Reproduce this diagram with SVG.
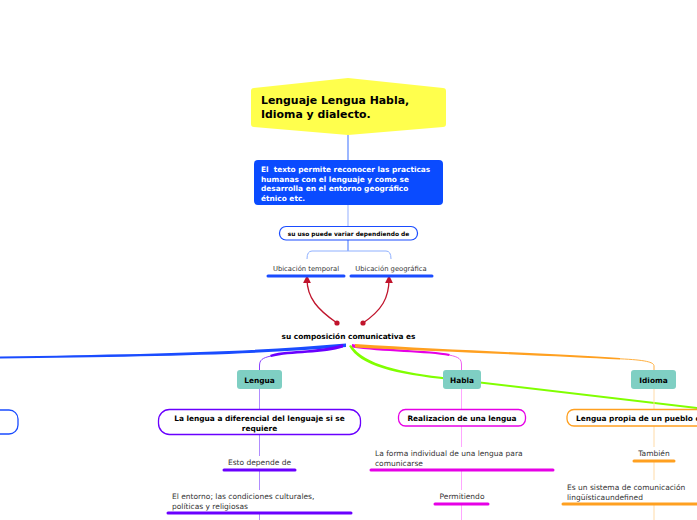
<svg xmlns="http://www.w3.org/2000/svg" width="697" height="520" viewBox="0 0 697 520">
<defs>
<style>
text{font-family:"DejaVu Sans","Liberation Sans",sans-serif;}
.b{font-weight:bold;}
.t{font-size:7.5px;fill:#333;}
.ts{font-size:6.8px;fill:#333;}
.tb{font-size:7.4px;fill:#000;font-weight:bold;}
.topic{fill:#7fcfc3;}
.ul{stroke-width:3;fill:none;stroke-linecap:round;}
.thin{fill:none;stroke-width:1;}
</style>
<marker id="ah" viewBox="0 0 10 10" refX="5" refY="5" markerWidth="6" markerHeight="6" orient="auto-start-reverse">
<path d="M0,0 L10,5 L0,10 Z" fill="#c0142c"/>
</marker>
</defs>
<rect width="697" height="520" fill="#fff"/>

<g id="connectors">
<line x1="348" y1="135" x2="348" y2="160" stroke="#5b87ff" stroke-width="1.2"/>
<line x1="348" y1="205" x2="348" y2="226" stroke="#a6bcff" stroke-width="1.2"/>
<line x1="348" y1="240" x2="348" y2="251" stroke="#5b87ff" stroke-width="1.2"/>
<path d="M312,251 L386,251 Q391,251 391,259 M312,251 Q307,251 307,259" class="thin" stroke="#8fb0ff"/>
<path d="M337,323 C318,310 307,298 307,279" fill="none" stroke="#c0142c" stroke-width="1.3" marker-end="url(#ah)"/>
<circle cx="337" cy="323" r="2.6" fill="#c0142c"/>
<path d="M363,323 C382,310 389,298 389,279" fill="none" stroke="#c0142c" stroke-width="1.3" marker-end="url(#ah)"/>
<circle cx="363" cy="323" r="2.6" fill="#c0142c"/>
<path d="M346,343.5 C250,352 150,354 0,356.5 L0,358.5 C150,356.5 250,355 346,347 Z" fill="#1a4cff"/>
<path d="M343,344 C320,352 280,350 270,355 L271,357 C290,352 325,354 343,347.5 Z" fill="#6a00ff"/>
<path d="M271,356 C262,358 259.5,360 259.5,366 L259.5,370" class="thin" stroke="#8a40ff"/>
<path d="M352,344 C380,350 430,350 450,354 L449,356 C430,352 380,352 352,347.5 Z" fill="#e600e6"/>
<path d="M449,355 C459,357 461.5,359 461.5,365 L461.5,370" class="thin" stroke="#f060f0"/>
<path d="M351,345 C365,365 400,372 450,378 L697,407 L697,409 L450,380 C395,374 360,366 349,346 Z" fill="#80ff00"/>
<path d="M355,344 C450,350 560,354 620,358 L620,359.5 C560,356 450,352 355,347.5 Z" fill="#ffa020"/>
<path d="M620,358.8 C645,360 654,362 654,366 L654,370" class="thin" stroke="#ffb040"/>
<line x1="259.5" y1="389" x2="259.5" y2="409" stroke="#b08cff" stroke-width="1"/>
<line x1="259.5" y1="434" x2="259.5" y2="456" stroke="#b08cff" stroke-width="1"/>
<line x1="259.5" y1="470" x2="259.5" y2="490" stroke="#b08cff" stroke-width="1"/>
<line x1="259.5" y1="513" x2="259.5" y2="520" stroke="#b08cff" stroke-width="1"/>
<line x1="461.5" y1="389" x2="461.5" y2="409" stroke="#ffa6ff" stroke-width="1"/>
<line x1="461.5" y1="426" x2="461.5" y2="447" stroke="#ffa6ff" stroke-width="1"/>
<line x1="461.5" y1="470" x2="461.5" y2="490" stroke="#ffa6ff" stroke-width="1"/>
<line x1="461.5" y1="504" x2="461.5" y2="520" stroke="#ffa6ff" stroke-width="1"/>
<line x1="654" y1="389" x2="654" y2="409" stroke="#ffdba8" stroke-width="1"/>
<line x1="654" y1="426" x2="654" y2="447" stroke="#ffdba8" stroke-width="1"/>
<line x1="654" y1="461" x2="654" y2="480" stroke="#ffdba8" stroke-width="1"/>
<line x1="654" y1="504" x2="654" y2="520" stroke="#ffdba8" stroke-width="1"/>
</g>

<g id="main">
<path d="M254,88 L348,78 L443,88 Q446,88 446,91 L446,124 Q446,127 443,127 L348,135 L254,127 Q251,127 251,124 L251,91 Q251,88 254,88 Z" fill="#ffff4d"/>
<text x="261" y="104" class="b" font-size="10.9" fill="#000">Lenguaje Lengua Habla,</text>
<text x="261" y="118" class="b" font-size="10.9" fill="#000">Idioma y dialecto.</text>
</g>

<g id="texto">
<rect x="254" y="160" width="189" height="45" rx="4" fill="#0a4bff"/>
<text class="b" font-size="7.4" fill="#fff" xml:space="preserve"><tspan x="261" y="172">El  texto permite reconocer las practicas</tspan><tspan x="261" y="181.5">humanas con el lenguaje y como se</tspan><tspan x="261" y="191">desarrolla en el entorno geográfico</tspan><tspan x="261" y="200.5">étnico etc.</tspan></text>
</g>

<g id="uso">
<rect x="279.5" y="226.5" width="138" height="13.5" rx="6.5" fill="#fff" stroke="#1a4cff" stroke-width="1.2"/>
<text x="348.5" y="236" text-anchor="middle" class="b" font-size="5.9" fill="#000">su uso puede variar dependiendo de</text>
</g>

<g id="temporal">
<text x="306" y="271" text-anchor="middle" class="ts">Ubicación temporal</text>
<line x1="268" y1="276" x2="344" y2="276" class="ul" stroke="#1a4cff"/>
</g>
<g id="geografica">
<text x="391" y="271" text-anchor="middle" class="ts">Ubicación geográfica</text>
<line x1="351" y1="276" x2="432" y2="276" class="ul" stroke="#1a4cff"/>
</g>

<g id="composicion">
<text x="348.5" y="339" text-anchor="middle" class="tb">su composición comunicativa es</text>
</g>

<g id="left-box">
<rect x="-30" y="410" width="48" height="24" rx="9" fill="#fff" stroke="#1a4cff" stroke-width="1.3"/>
</g>

<g id="lengua">
<rect x="237" y="370" width="45" height="19" rx="3" class="topic"/>
<text x="259.5" y="382.5" text-anchor="middle" class="tb">Lengua</text>
</g>
<g id="lengua-def">
<rect x="158.5" y="409.5" width="202" height="25" rx="11" fill="#fff" stroke="#6a00ff" stroke-width="1.3"/>
<text x="259.5" y="421" text-anchor="middle" class="tb">La lengua a diferencial del lenguaje si se</text>
<text x="259.5" y="430.5" text-anchor="middle" class="tb">requiere</text>
</g>
<g id="depende">
<text x="259.5" y="465" text-anchor="middle" class="t">Esto depende de</text>
<line x1="224" y1="470" x2="295" y2="470" class="ul" stroke="#6a00ff"/>
</g>
<g id="entorno">
<text x="172" y="499" class="t">El entorno; las condiciones culturales,</text>
<text x="172" y="508.5" class="t">políticas y religiosas</text>
<line x1="168" y1="513" x2="351" y2="513" class="ul" stroke="#6a00ff"/>
</g>

<g id="habla">
<rect x="443" y="370" width="38" height="19" rx="3" class="topic"/>
<text x="462" y="382.5" text-anchor="middle" class="tb">Habla</text>
</g>
<g id="habla-def">
<rect x="398.5" y="409.5" width="127" height="16.5" rx="7" fill="#fff" stroke="#e600e6" stroke-width="1.3"/>
<text x="462" y="420.5" text-anchor="middle" class="tb">Realizacion de una lengua</text>
</g>
<g id="forma">
<text x="375" y="456" class="t">La forma individual de una lengua para</text>
<text x="375" y="465.5" class="t">comunicarse</text>
<line x1="371" y1="470" x2="553" y2="470" class="ul" stroke="#e600e6"/>
</g>
<g id="permitiendo">
<text x="462" y="499" text-anchor="middle" class="t">Permitiendo</text>
<line x1="435" y1="504" x2="488" y2="504" class="ul" stroke="#e600e6"/>
</g>

<g id="idioma">
<rect x="631" y="370" width="45" height="19" rx="3" class="topic"/>
<text x="653.5" y="382.5" text-anchor="middle" class="tb">Idioma</text>
</g>
<g id="idioma-def">
<rect x="567" y="409.5" width="160" height="16.5" rx="7" fill="#fff" stroke="#ffa020" stroke-width="1.3"/>
<text x="576" y="420.5" class="tb">Lengua propia de un pueblo o</text>
</g>
<g id="tambien">
<text x="654" y="456" text-anchor="middle" class="t">También</text>
<line x1="634" y1="461" x2="674" y2="461" class="ul" stroke="#ffa020"/>
</g>
<g id="sistema">
<text x="567" y="490" class="t">Es un sistema de comunicación</text>
<text x="567" y="499.5" class="t">lingüísticaundefined</text>
<line x1="563" y1="504" x2="700" y2="504" class="ul" stroke="#ffa020"/>
</g>
</svg>
